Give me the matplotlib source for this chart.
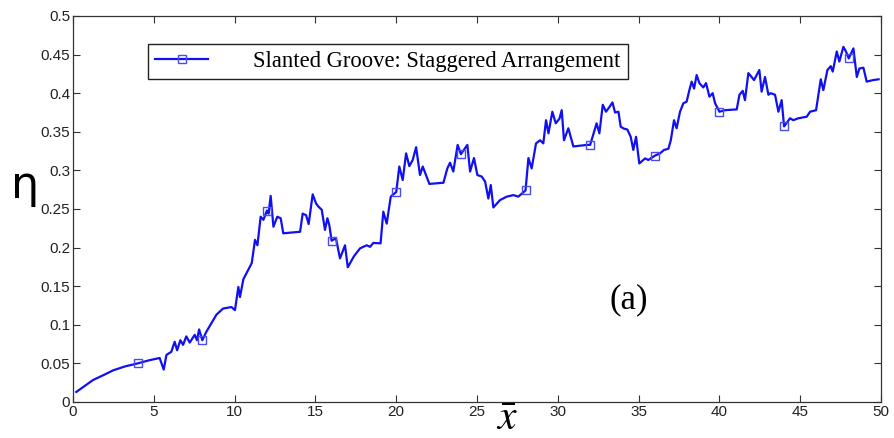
import numpy as np
import matplotlib
matplotlib.use("Agg")
import matplotlib.pyplot as plt

# efficiency along the channel, staggered slanted grooves
x = [0.2, 0.6, 1.24, 1.9, 2.48, 3.2, 4.0, 4.7, 5.36, 5.61, 5.78, 6.08, 6.29, 6.44,
     6.64, 6.81, 7.01, 7.22, 7.53, 7.67, 7.80, 8.0, 8.25, 8.87, 9.28, 9.80, 10.02,
     10.23, 10.33, 10.54, 11.06, 11.26, 11.41, 11.61, 11.78, 12.0, 12.1, 12.23,
     12.40, 12.64, 12.85, 13.01, 14.05, 14.21, 14.42, 14.58, 14.83, 15.04, 15.19,
     15.39, 15.59, 15.74, 15.86, 16.0, 16.27, 16.52, 16.83, 17.0, 17.39, 17.76,
     18.17, 18.38, 18.58, 19.03, 19.20, 19.41, 19.66, 20.0, 20.19, 20.40, 20.61,
     20.81, 21.02, 21.23, 21.47, 21.64, 21.84, 22.05, 22.92, 23.16, 23.33, 23.53,
     23.80, 24.0, 24.17, 24.40, 24.57, 24.81, 25.02, 25.29, 25.50, 25.70, 25.85,
     26.01, 26.42, 26.84, 27.25, 27.55, 28.0, 28.18, 28.38, 28.65, 28.90, 29.10,
     29.27, 29.42, 29.66, 29.87, 30.1, 30.24, 30.38, 30.65, 30.96, 31.79, 32.0,
     32.24, 32.40, 32.57, 32.78, 32.98, 33.19, 33.38, 33.54, 33.75, 33.89, 34.1,
     34.3, 34.51, 34.67, 34.84, 35.04, 35.40, 35.60, 36.0, 36.32, 36.57, 36.84,
     36.99, 37.19, 37.35, 37.56, 37.77, 37.97, 38.14, 38.28, 38.43, 38.59, 38.76,
     39.0, 39.17, 39.38, 39.58, 39.73, 40.0, 40.35, 41.07, 41.24, 41.44, 41.58,
     41.79, 41.99, 42.14, 42.47, 42.61, 42.82, 43.03, 43.17, 43.44, 43.65, 43.85,
     44.0, 44.37, 44.57, 44.88, 45.40, 45.61, 45.98, 46.27, 46.43, 46.68, 46.89,
     47.01, 47.26, 47.42, 47.67, 47.83, 48.0, 48.29, 48.50, 48.66, 48.91, 49.11,
     49.52, 49.85]
eta = [0.013, 0.019, 0.0285, 0.035, 0.041, 0.046, 0.050, 0.054, 0.057, 0.042, 0.061,
       0.065, 0.078, 0.067, 0.080, 0.074, 0.085, 0.077, 0.087, 0.080, 0.094, 0.080,
       0.091, 0.113, 0.121, 0.123, 0.119, 0.149, 0.136, 0.159, 0.180, 0.210, 0.203,
       0.240, 0.236, 0.248, 0.244, 0.267, 0.227, 0.240, 0.238, 0.2185, 0.2205, 0.244,
       0.242, 0.2305, 0.269, 0.257, 0.253, 0.249, 0.223, 0.238, 0.229, 0.209, 0.212,
       0.186, 0.203, 0.1745, 0.189, 0.199, 0.203, 0.201, 0.206, 0.2055, 0.2465, 0.231,
       0.266, 0.272, 0.305, 0.2875, 0.322, 0.3055, 0.3135, 0.330, 0.294, 0.305, 0.294,
       0.2825, 0.284, 0.3025, 0.310, 0.2985, 0.333, 0.321, 0.326, 0.333, 0.2985, 0.316,
       0.294, 0.292, 0.2855, 0.2635, 0.281, 0.252, 0.2615, 0.266, 0.268, 0.266, 0.274,
       0.316, 0.3025, 0.335, 0.339, 0.335, 0.365, 0.348, 0.376, 0.361, 0.367, 0.378,
       0.339, 0.3545, 0.331, 0.333, 0.333, 0.350, 0.361, 0.348, 0.385, 0.376, 0.382,
       0.388, 0.375, 0.376, 0.3565, 0.354, 0.353, 0.3435, 0.3265, 0.3435, 0.309,
       0.3155, 0.3135, 0.319, 0.322, 0.3265, 0.328, 0.339, 0.365, 0.3545, 0.376,
       0.387, 0.389, 0.404, 0.415, 0.406, 0.4235, 0.413, 0.4075, 0.413, 0.3955, 0.400,
       0.387, 0.376, 0.378, 0.379, 0.398, 0.403, 0.391, 0.426, 0.421, 0.417, 0.430,
       0.402, 0.421, 0.398, 0.400, 0.398, 0.376, 0.391, 0.357, 0.3675, 0.365, 0.3675,
       0.3695, 0.376, 0.378, 0.418, 0.404, 0.430, 0.435, 0.428, 0.454, 0.441, 0.460,
       0.454, 0.445, 0.458, 0.421, 0.432, 0.433, 0.415, 0.417, 0.418]
marker_x = [4, 8, 12, 16, 20, 24, 28, 32, 36, 40, 44, 48]
xticks = [0, 5, 10, 15, 20, 25, 30, 35, 40, 45, 50]
yticks = [0, 0.05, 0.1, 0.15, 0.2, 0.25, 0.3, 0.35, 0.4, 0.45, 0.5]

x = np.array(x)
eta = np.array(eta)
mark_idx = list(np.where(np.isin(x, marker_x))[0])

plt.rcParams['mathtext.fontset'] = 'stix'
tickfont = ['Liberation Sans Narrow', 'Liberation Sans', 'DejaVu Sans']
serif = ['Liberation Serif', 'DejaVu Serif']

fig = plt.figure(figsize=(8.94, 4.38), dpi=100)
ax = fig.add_axes([0.0817, 0.0822, 0.9038, 0.8813])

ax.plot(x, eta, color='#1010f0', lw=1.6, marker='s', markevery=mark_idx,
        ms=6, mfc='none', mec='#4a4af0', mew=1.0,
        label='Slanted Groove: Staggered Arrangement')

ax.set_xlim(0, 50)
ax.set_ylim(0, 0.5)
ax.set_xticks(xticks)
ax.set_yticks(yticks)
ax.set_xticklabels([f'{t:g}' for t in xticks])
ax.set_yticklabels([f'{t:g}' for t in yticks])
ax.tick_params(direction='in', length=5, width=0.8, color='#333333',
               top=True, right=True, labelsize=11, labelcolor='#222222', pad=2)
for lab in ax.get_xticklabels() + ax.get_yticklabels():
    lab.set_family(tickfont)
for s in ax.spines.values():
    s.set_color('#333333')
    s.set_linewidth(0.9)

# axis titles placed by hand, the x one sits between the 25 and 30 labels
fig.text(25 / 894, 1 - 185 / 438, 'η', family=['DejaVu Sans'], fontsize=32,
         ha='center', va='center')
fig.text(507 / 894, 1 - 418 / 438, r'$\bar{x}$', fontsize=30,
         ha='center', va='center')

ax.text(33.2, 0.132, '(a)', family=serif, fontsize=25, va='center')

leg = ax.legend(loc='upper left', bbox_to_anchor=(0.093, 0.927),
                prop={'family': serif, 'size': 16.3}, fancybox=False,
                framealpha=1, edgecolor='#222222', handlelength=2.35,
                borderpad=0.3, handletextpad=2.0, borderaxespad=0)
leg.get_frame().set_linewidth(1.0)

fig.savefig('out.png', dpi=100)
